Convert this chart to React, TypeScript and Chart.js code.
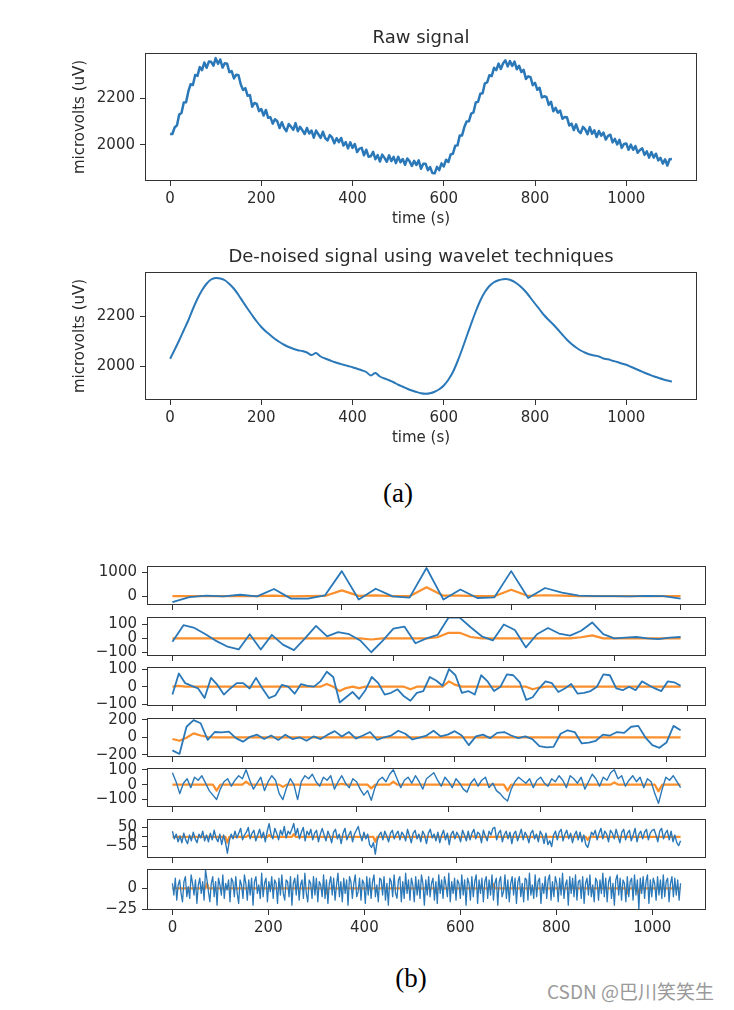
import React, { useEffect, useRef } from 'react';
import { Chart, registerables } from 'chart.js';

Chart.register(...registerables);

const FONT = '"DejaVu Sans", "Liberation Sans", sans-serif';
const TXT = '#2b2b2b';
const BLUE = '#2a78b8';
const ORANGE = '#fb8f2c';
const EDGE = '#333333';

// ---------- (a) data ----------
const rawStep = 5;
const rawSignal = [
  2046, 2046, 2074, 2083, 2130, 2137, 2182, 2183, 2230, 2261, 2258, 2301, 2297, 2335, 2322, 2355, 2332, 2359, 2358, 2341,
  2374, 2349, 2368, 2333, 2352, 2350, 2313, 2318, 2286, 2302, 2300, 2260, 2236, 2244, 2211, 2214, 2164, 2180, 2176, 2145,
  2154, 2126, 2150, 2116, 2118, 2091, 2110, 2101, 2072, 2097, 2072, 2058, 2089, 2078, 2064, 2093, 2058, 2077, 2062, 2046,
  2072, 2048, 2061, 2030, 2061, 2045, 2029, 2056, 2028, 2018, 2041, 2031, 2006, 2028, 2011, 2029, 1996, 2011, 1984, 2010,
  1986, 2003, 1968, 1983, 1986, 1954, 1978, 1948, 1950, 1969, 1937, 1955, 1927, 1957, 1943, 1926, 1954, 1929, 1947, 1920,
  1948, 1924, 1938, 1913, 1940, 1928, 1908, 1930, 1912, 1932, 1896, 1918, 1918, 1890, 1903, 1877, 1876, 1904, 1890, 1919,
  1906, 1935, 1925, 1958, 1961, 1995, 1997, 2040, 2040, 2076, 2100, 2101, 2134, 2139, 2182, 2185, 2220, 2222, 2265, 2269,
  2300, 2296, 2332, 2322, 2350, 2327, 2352, 2364, 2338, 2361, 2340, 2359, 2326, 2341, 2314, 2323, 2284, 2295, 2292, 2257,
  2267, 2237, 2246, 2204, 2209, 2206, 2172, 2185, 2144, 2159, 2138, 2147, 2112, 2119, 2118, 2083, 2091, 2063, 2088, 2060,
  2050, 2077, 2066, 2045, 2076, 2047, 2062, 2033, 2059, 2039, 2052, 2022, 2038, 2043, 2010, 2025, 2001, 2021, 1986, 2003,
  2005, 1978, 2000, 1978, 1994, 1965, 1977, 1984, 1956, 1971, 1944, 1968, 1944, 1961, 1932, 1943, 1918, 1937, 1910, 1937,
  1938,
];

const denoisedStep = 10;
const denoisedSignal = [
  2029, 2065, 2103, 2143, 2183, 2228, 2269, 2303, 2329, 2346,
  2352, 2350, 2343, 2328, 2309, 2284, 2256, 2229, 2203, 2178,
  2156, 2138, 2123, 2108, 2096, 2085, 2076, 2069, 2063, 2060,
  2054, 2044, 2052, 2038, 2030, 2023, 2016, 2010, 2005, 2000,
  1995, 1989, 1983, 1976, 1962, 1972, 1958, 1950, 1943, 1935,
  1925, 1917, 1909, 1902, 1896, 1891, 1889, 1891, 1897, 1907,
  1922, 1945, 1976, 2018, 2066, 2118, 2169, 2218, 2262, 2296,
  2320, 2335, 2343, 2347, 2347, 2341, 2330, 2315, 2296, 2273,
  2249, 2226, 2203, 2184, 2166, 2146, 2125, 2105, 2088, 2074,
  2062, 2053, 2046, 2042, 2038, 2030, 2027, 2021, 2016, 2010,
  2005, 1997, 1989, 1981, 1973, 1966, 1959, 1953, 1947, 1942,
  1938,
];

const timeTicks = [0, 200, 400, 600, 800, 1000];
const microvoltTicks = [2000, 2200];

// ---------- (b) data ----------
const p1Blue = [-250, -40, 25, -10, 60, -10, 300, -100, -100, 30, 1040, -140, 310, -10, -60, 1170, -140, 275, -75, -50, 1040, -75, 340, 150, 25, 0, 5, -5, 10, 0, -100];
const p1Orange = [0, 0, 5, 0, 5, 0, 20, -5, 0, 10, 240, 15, 35, 0, 0, 370, 20, 25, 0, 0, 270, 10, 40, 20, 5, 0, 0, 0, 0, 0, 0];

const p2Blue = [
  -25, 95, 75, 30, -20, -60, -80, 30, -80, 25,
  -45, -85, 0, 90, 15, 45, 30, -15, -100, -20,
  70, 85, -35, 0, 25, 150, 150, 80, 15, -15,
  100, 60, -65, 30, 75, 35, 20, 55, 115, 30,
  0, 5, 10, 0, -5, 5, 10,
];
const p2Orange = [
  0, 0, 0, 0, 0, 0, 0, 0, 0, 0,
  0, 0, 0, 0, 0, 0, 0, 0, -8, 0,
  0, 0, 0, 0, 8, 40, 40, 10, 0, 0,
  0, 0, 0, 0, 0, 0, 0, 8, 22, 0,
  0, 0, 0, 0, 0, 0, 0,
];

const p3Blue = [
  -45, 75, 20, 5, -10, -65, 50, 10, -45, -10,
  20, 20, -10, 50, -10, -65, -50, 10, 0, -40,
  15, 5, 0, 30, 85, 55, -90, -60, -30, -70, -20, 55, 20,
  -45, -35, -15, -55, -80, -35, -25, 55, 35, 5,
  100, 65, -35, -25, -45, 65, 30, -25, 0, 70,
  65, 25, -75, -60, -10, 30, 20, -30, -10, 15,
  -40, -35, -25, 0, 70, 65, -10, -20, 0, -20,
  30, 10, -10, -25, 30, 25, 5,
];
const p3OrangeSpikes: [number, number][] = [[1, 5], [24, 15], [26, -25], [27, -8], [29, -8], [37, -15], [43, 30], [44, 10], [56, -15], [57, -5]];

const p4Blue = [
  -150, -190, 120, 195, 160, -30, 60, 55, 65, -10,
  -50, 5, 30, -20, 20, -30, 30, -20, 0, -40,
  10, -20, 30, 70, 10, 60, -15, 20, 60, -30,
  0, 20, 75, 40, -25, -5, 20, 75, 10, 30,
  70, 20, -90, 10, 30, -10, 50, 60, 20, -10,
  10, -20, -100, -115, -110, 40, 80, 60, -70, -60,
  -40, 30, 20, 60, 50, 120, 130, 0, -90, -120,
  -60, 130, 80,
];
const p4OrangeSpikes: [number, number][] = [[0, -20], [1, -40], [2, -5], [3, 45], [4, 20], [5, 3]];

const p5Blue = [
  80, 20, -60, 10, 40, -20, 50, 30, 60, 10,
  -40, -70, -100, -30, 20, 40, -10, 30, 60, 40,
  100, 30, -30, 10, 50, -40, 20, 60, 30, -60,
  -100, -20, 40, 0, -100, 20, 60, 40, 70, 20,
  -10, 50, 30, 60, -30, 20, 60, 10, -20, 40,
  20, -30, -70, -40, -105, -20, 30, 50, 20, 70,
  100, 40, -20, 30, 50, 10, 60, 20, -30, 40,
  60, 80, 30, -10, 50, 20, -20, 40, 10, -30,
  -50, 10, 40, -10, 30, 50, -20, 10, -40, -60,
  -90, -110, -30, 20, 50, 30, 10, 40, -20, 30,
  50, 10, -10, 40, 20, 60, 30, -20, 60, 40,
  10, 50, -30, 20, 70, 40, -10, 50, 30, 80,
  100, 40, 60, -10, 30, 60, 20, 50, -20, 40,
  20, -60, -125, -30, 50, 30, 60, 20, -20,
];
const p5OrangeSpikes: [number, number][] = [[12, -40], [20, 20], [30, -15], [46, 5], [54, -25], [60, 20], [91, -40], [120, 15], [132, -45]];

const p6Blue = [
  30, -10, 15, -25, 5, -30, 20, -15, -35, 10, -20, 25, -10, -30, 15, -5, 30, -20, 10, -25,
  20, -15, 35, -5, -25, 15, -40, 10, -30, -85, -20, 15, -10, 30, -5, 20, 45, -15, 10, 25,
  50, -10, 20, 35, -20, 10, 40, -5, 25, -25, 30, 70, 15, -10, 45, 20, -15, 35, 10, 55,
  -5, 30, 15, 40, 70, 10, 45, -10, 25, 50, -20, 30, 10, 40, -15, 20, 35, -25, 15, 45,
  10, -20, 30, 5, -30, 25, 40, -10, 15, -35, 20, 45, -15, 10, 30, -25, 15, 35, 55, 10,
  -20, 25, -10, 15, -40, -55, -30, -90, -20, 10, 25, -15, 30, 5, -25, 20, 35, -10, 15, 30,
  -15, 25, 10, -20, 40, 5, -30, 20, 35, -10, 15, -25, 30, 10, -35, 20, 40, -5, 15, -20,
  25, -30, 10, 35, -15, 20, -40, 15, 30, -10, 25, 5, -25, 35, 10, -20, 30, -15, 20, 40,
  -10, 25, 15, -30, 35, 5, -20, 30, 10, 45, 50, -15, 20, 35, -25, 10, 30, -10, 25, -35,
  15, 30, -20, 10, 40, -15, 25, 5, -30, 20, 35, -10, 15, -25, 30, 10, -35, 20, -40, -20,
  -50, 10, 30, -15, 25, 40, -20, 15, 35, -10, 20, -30, 10, 30, -15, 25, -25, 10, -40, -55,
  -20, 25, 10, 35, -15, 20, 45, -10, 30, 15, -25, 35, 20, -10, 40, 5, -30, 25, 40, -15,
  20, 35, -20, 10, 45, -25, 15, 30, -10, 25, 40, -15, 20, 35, 40, 10, -25, 30, 45, -10,
  20, 35, -15, 30, -25, 10, -30, -45, -20,
];
const p6OrangeSpikes: [number, number][] = [[29, -30], [40, 8], [51, 10], [64, 15], [107, -25], [158, 5], [219, -15]];

const p7Blue = [
  6, -8, 12, -14, 4, 10, -6, -16, 8, 14, -10, 2, -12, 16, 6, -8, 10, -18, 4, 12,
  -6, 8, -14, 22, 10, -4, -16, 6, 14, -10, 8, -20, 12, 4, -8, 16, -12, 6, -2, 10,
  -16, 12, 8, -10, 14, -6, -18, 10, 4, -12, 16, 6, -14, 10, -8, 12, -20, 8, 14, -6,
  4, -12, 18, -10, 6, 12, -16, 8, -4, 14, -12, 10, 6, -18, 12, -8, 16, -6, -14, 10,
  8, -10, 14, -20, 6, 12, -8, 16, -14, 4, 10, -12, 18, -6, -16, 10, 6, -12, 14, -8,
  12, -16, 8, 4, -10, 16, -12, 10, -18, 6, 14, -8, 12, -14, 4, 18, -10, 8, -16, 12,
  -6, 10, -20, 14, 8, -12, 6, 16, -10, -4, 12, -14, 10, 6, -18, 14, -8, 12, -12, 8,
  16, -10, 4, -16, 12, 10, -8, 14, -14, 6, -20, 12, 8, -10, 16, -6, -12, 10, 14, -16,
  8, -12, 18, -6, 10, -14, 12, 4, -16, 14, -8, 10, -12, 16, 6, -20, 10, -8, 14, -10,
  6, 12, -14, 8, -18, 16, -6, 10, -12, 14, 4, -10, 18, -16, 8, -6, 12, -14, 10, 6,
  -12, 16, -8, 10, -20, 12, 6, -14, 14, -10, 8, 16, -18, 10, -6, 12, -16, 8, 14, -12,
  10, -8, 16, -14, 6, 12, -20, 8, 14, -10, -4, 16, -12, 10, -16, 6, 14, -8, 12, -18,
  8, 14, -10, 6, -16, 12, 10, -14, 18, -8, 4, -12, 16, -10, 8, 12, -18, 6, -6, 14,
  -12, 10, 16, -14, 8, -10, 14, 6, -16, 12, -8, 18, -12, 4, 10, -20, 14, -6, 12, -10,
  16, -14, 8, 10, -12, 14, -18, 6, 12, -8, 16, -10, 4, -16, 12, 8, -14, 10, -6, 18,
  -10, 12, -16, 8, 14, -12, 6, -20, 10, 16, -8, 12, -14, 10, 6, -16, 14, -10, 8, 12,
  -14, 16, -8, 10, -25, 12, -6, 14, -12, 8, 16, -18, 10, -10, 12, 6, -14, 14, -8, 10,
  -12, 16, -10, 8, 12, -16, 6, 14, -10, 12, -8, 10, -14, 6,
];
const p7OrangeSpikes: [number, number][] = [[24, 6], [107, -6], [183, -5], [223, 5], [316, -6], [324, -8]];

const coefSteps = [1, 1, 1, 2, 2, 2, 3];
const coefXMin = [-1.5, -2.3, -3.95, -7.2, -13.8, -26.8, -53];
const coefXMax = [31.5, 48.3, 82.95, 151.2, 289.8, 562.8, 1112];
const coefXTicks = [
  [0, 5, 10, 15, 20, 25, 30],
  [0, 10, 20, 30, 40],
  [0, 10, 20, 30, 40, 50, 60, 70, 80],
  [0, 20, 40, 60, 80, 100, 120, 140],
  [0, 50, 100, 150, 200, 250],
  [0, 100, 200, 300, 400, 500],
  [0, 200, 400, 600, 800, 1000],
];
const coefYMin = [-365, -127, -110, -225, -150, -110, -25.8];
const coefYMax = [1252, 154, 112, 220, 112, 94, 23];
const coefYTicks = [
  [0, 1000],
  [-100, 0, 100],
  [-100, 0, 100],
  [-200, 0, 200],
  [-100, 0, 100],
  [-50, 0, 50],
  [-25, 0],
];
const coefBlueWidths = [1.8, 1.8, 1.8, 1.8, 1.4, 1.4, 1.3];

// ---------- helpers ----------
function toPoints(values: number[], step: number) {
  return values.map((v, i) => ({ x: i * step, y: v }));
}
function fromSpikes(len: number, spikes: [number, number][]) {
  const arr = new Array(len).fill(0);
  spikes.forEach(([i, v]) => { arr[i] = v; });
  return arr;
}
const fmt = (v: number) => (v < 0 ? '\u2212' + Math.abs(v) : String(v));

const boxPlugin = {
  id: 'boxFrame',
  afterDraw(chart: any) {
    const { ctx, chartArea: a } = chart;
    ctx.save();
    ctx.strokeStyle = EDGE;
    ctx.lineWidth = 1;
    const l = Math.round(a.left) + 0.5;
    const t = Math.round(a.top) + 0.5;
    const r = Math.round(a.right) - 0.5;
    const b = Math.round(a.bottom) - 0.5;
    ctx.strokeRect(l, t, r - l, b - t);
    ctx.restore();
  },
};

interface SeriesSpec { values: number[]; step: number; color: string; width: number; tension?: number }
interface PanelSpec {
  left: number; top: number; width: number; height: number;
  padTop: number; padRight: number; yAxisW: number; xAxisH: number; titleH?: number;
  xMin: number; xMax: number; xTicks: number[];
  yMin: number; yMax: number; yTicks: number[];
  showXLabels: boolean;
  title?: string; xTitle?: string; yTitle?: string;
  series: SeriesSpec[];
}

function buildConfig(p: PanelSpec): any {
  const scales: any = {
    x: {
      type: 'linear',
      min: p.xMin,
      max: p.xMax,
      bounds: 'data',
      afterBuildTicks: (s: any) => { s.ticks = p.xTicks.map((v) => ({ value: v })); },
      afterFit: (s: any) => { s.height = p.xAxisH; },
      border: { display: false },
      grid: { display: true, drawOnChartArea: false, drawTicks: true, tickLength: 5, color: EDGE, tickColor: EDGE, tickWidth: 1 },
      ticks: {
        display: p.showXLabels,
        color: TXT,
        padding: 4,
        maxRotation: 0,
        autoSkip: false,
        font: { family: FONT, size: 15, lineHeight: 1.2 },
        callback: (v: any) => fmt(Number(v)),
      },
      title: p.xTitle
        ? { display: true, text: p.xTitle, color: TXT, font: { family: FONT, size: 15, lineHeight: 1.2 }, padding: { top: 0, bottom: 6 } }
        : { display: false },
    },
    y: {
      type: 'linear',
      min: p.yMin,
      max: p.yMax,
      bounds: 'data',
      afterBuildTicks: (s: any) => { s.ticks = p.yTicks.map((v) => ({ value: v })); },
      afterFit: (s: any) => { s.width = p.yAxisW; },
      border: { display: false },
      grid: { display: true, drawOnChartArea: false, drawTicks: true, tickLength: 5, color: EDGE, tickColor: EDGE, tickWidth: 1 },
      ticks: {
        display: true,
        color: TXT,
        padding: 5,
        autoSkip: false,
        font: { family: FONT, size: 15, lineHeight: 1.2 },
        callback: (v: any) => fmt(Number(v)),
      },
      title: p.yTitle
        ? { display: true, text: p.yTitle, color: TXT, font: { family: FONT, size: 15, lineHeight: 1.2 }, padding: { top: 21, bottom: 0 } }
        : { display: false },
    },
  };
  if (p.title) {
    // a label-less top axis whose title sits centred over the plot box
    scales.xTop = {
      type: 'linear',
      position: 'top',
      min: p.xMin,
      max: p.xMax,
      afterFit: (s: any) => { s.height = p.titleH ?? 38; },
      border: { display: false },
      grid: { display: false },
      ticks: { display: false },
      title: {
        display: true,
        text: p.title,
        color: TXT,
        font: { family: FONT, size: 18, weight: 'normal', lineHeight: 1.2 },
        padding: { top: 12.2, bottom: 0 },
      },
    };
  }
  return {
    type: 'line',
    data: {
      datasets: p.series.map((s) => ({
        data: toPoints(s.values, s.step),
        borderColor: s.color,
        backgroundColor: s.color,
        borderWidth: s.width,
        pointRadius: 0,
        tension: s.tension ?? 0,
        fill: false,
        borderJoinStyle: 'round',
        xAxisID: 'x',
        yAxisID: 'y',
      })),
    },
    options: {
      animation: false,
      responsive: false,
      maintainAspectRatio: false,
      events: [],
      layout: { padding: { left: 0, right: p.padRight, top: p.padTop, bottom: 0 } },
      plugins: {
        legend: { display: false },
        tooltip: { enabled: false },
        title: { display: false },
      },
      scales,
    },
    plugins: [boxPlugin],
  };
}

// ---------- panel specs ----------
const rawPanel: PanelSpec = {
  left: 50, top: 15, width: 670, height: 219,
  padTop: 0, padRight: 23, yAxisW: 95, xAxisH: 53, titleH: 38,
  xMin: -55, xMax: 1155, xTicks: timeTicks,
  yMin: 1843, yMax: 2396, yTicks: microvoltTicks,
  showXLabels: true,
  title: 'Raw signal', xTitle: 'time (s)', yTitle: 'microvolts (uV)',
  series: [{ values: rawSignal, step: rawStep, color: BLUE, width: 2.5 }],
};

const denoisedPanel: PanelSpec = {
  left: 50, top: 234, width: 670, height: 219,
  padTop: 0, padRight: 23, yAxisW: 95, xAxisH: 53, titleH: 38,
  xMin: -55, xMax: 1155, xTicks: timeTicks,
  yMin: 1864, yMax: 2376, yTicks: microvoltTicks,
  showXLabels: true,
  title: 'De-noised signal using wavelet techniques', xTitle: 'time (s)', yTitle: 'microvolts (uV)',
  series: [{ values: denoisedSignal, step: denoisedStep, color: BLUE, width: 2, tension: 0.3 }],
};

const coefBlue = [p1Blue, p2Blue, p3Blue, p4Blue, p5Blue, p6Blue, p7Blue];
const coefOrange = [
  p1Orange,
  p2Orange,
  fromSpikes(p3Blue.length, p3OrangeSpikes),
  fromSpikes(p4Blue.length, p4OrangeSpikes),
  fromSpikes(p5Blue.length, p5OrangeSpikes),
  fromSpikes(p6Blue.length, p6OrangeSpikes),
  fromSpikes(p7Blue.length, p7OrangeSpikes),
];
const panelTops = [564, 615, 665, 716, 766, 817, 867];

const coefPanels: PanelSpec[] = panelTops.map((t, i) => {
  const last = i === panelTops.length - 1;
  return {
    left: 60, top: t - 12, width: 670, height: last ? 85 : 67,
    padTop: 12, padRight: 24, yAxisW: 87, xAxisH: last ? 30 : 12,
    xMin: coefXMin[i], xMax: coefXMax[i], xTicks: coefXTicks[i],
    yMin: coefYMin[i], yMax: coefYMax[i], yTicks: coefYTicks[i],
    showXLabels: last,
    series: [
      { values: coefBlue[i], step: coefSteps[i], color: BLUE, width: coefBlueWidths[i] },
      { values: coefOrange[i], step: coefSteps[i], color: ORANGE, width: 2.2 },
    ],
  };
});

function ChartPanel({ spec }: { spec: PanelSpec }) {
  const ref = useRef<HTMLCanvasElement | null>(null);
  useEffect(() => {
    if (!ref.current) return;
    const chart = new Chart(ref.current, buildConfig(spec));
    return () => chart.destroy();
  }, [spec]);
  return (
    <canvas
      ref={ref}
      width={spec.width}
      height={spec.height}
      style={{ position: 'absolute', left: spec.left, top: spec.top, width: spec.width, height: spec.height }}
    />
  );
}

function Caption({ text, x, y, size, font, color }: { text: string; x: number; y: number; size: number; font: string; color: string }) {
  return (
    <div
      style={{
        position: 'absolute', left: x, top: y, transform: 'translate(-50%, -50%)',
        fontFamily: font, fontSize: size, lineHeight: 1, color, whiteSpace: 'nowrap',
      }}
    >
      {text}
    </div>
  );
}

export default function App() {
  return (
    <div style={{ position: 'absolute', left: 0, top: 0, width: 734, height: 1010, background: '#fff', overflow: 'hidden' }}>
      <ChartPanel spec={rawPanel} />
      <ChartPanel spec={denoisedPanel} />
      {coefPanels.map((p, i) => (
        <ChartPanel key={i} spec={p} />
      ))}
      <Caption text="(a)" x={398} y={493} size={27} font='"Liberation Serif", "Times New Roman", serif' color="#000" />
      <Caption text="(b)" x={411} y={978} size={27} font='"Liberation Serif", "Times New Roman", serif' color="#000" />
      <div
        style={{
          position: 'absolute', left: 547, top: 981, fontFamily: '"Noto Sans CJK SC", "Noto Sans", sans-serif',
          fontSize: 19, lineHeight: 1, color: '#9a9a9a', whiteSpace: 'nowrap',
        }}
      >
        CSDN @巴川笑笑生
      </div>
    </div>
  );
}
